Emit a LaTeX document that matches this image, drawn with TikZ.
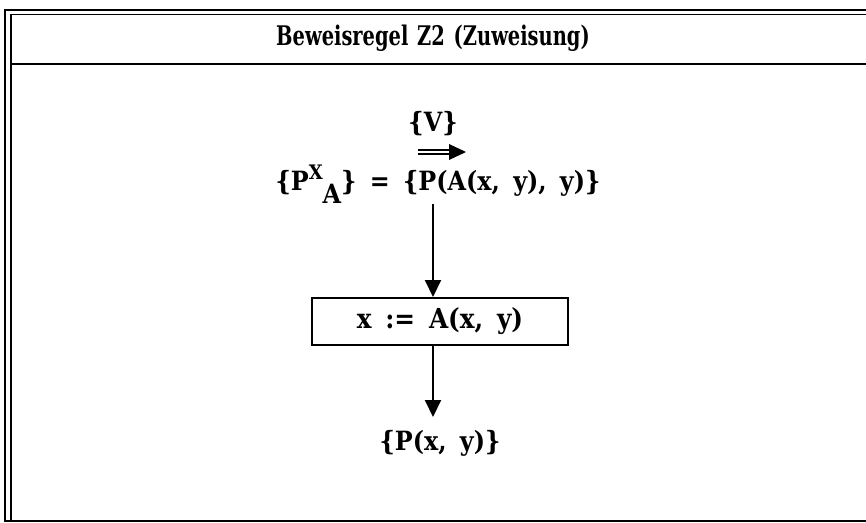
\documentclass[tikz,border=0pt]{standalone}
\usepackage{fontspec}
\setmainfont[FakeStretch=0.9,WordSpace=1.6]{DejaVu Serif}
\newfontfamily\titlefont[FakeStretch=0.72,WordSpace=1.3]{DejaVu Serif}
\usetikzlibrary{arrows.meta,calc}
\tikzset{
  txt/.style={inner sep=0pt, font=\bfseries\fontsize{26.5}{30}\selectfont},
  ttl/.style={inner sep=0pt, font=\titlefont\bfseries\fontsize{27}{30}\selectfont},
  frameline/.style={line width=2.2pt, black},
  thinframe/.style={line width=1.2pt, black},
  flow/.style={line width=2pt, -{Triangle[length=17pt,width=16pt]}},
  stmt/.style={draw, line width=2pt, minimum width=256pt, minimum height=47pt, inner sep=0pt, font=\bfseries\fontsize{27.5}{30}\selectfont}
}
\begin{document}
\begin{tikzpicture}[x=1pt,y=-1pt]
\useasboundingbox (0,0) rectangle (866,522);
% frame
\draw[frameline] (866,10) -- (5,10) -- (5,521) -- (866,521);
\draw[thinframe] (866,14.5) -- (11,14.5) -- (11,521);
\draw[frameline] (11,64) -- (866,64);
% title
\node[ttl] (title) at (433,38) {Beweisregel Z2 (Zuweisung)};
% upper part
\node[txt] (v) at (433,124) {\{V\}};
\coordinate (da1) at (418,152);
\coordinate (da2) at (466,152);
\draw[line width=2pt] ($(da1)+(0,-2.4)$) -- ($(da2)+(-14,-2.4)$);
\draw[line width=2pt] ($(da1)+(0,2.4)$) -- ($(da2)+(-14,2.4)$);
\fill ($(da2)+(-17,-8)$) -- (da2) -- ($(da2)+(-17,8)$) -- cycle;
\node[txt] (pre) at (438,184) {\{P\raisebox{0.42em}{\fontsize{20}{22}\selectfont X}\raisebox{-0.5em}{A}\} = \{P(A(x, y), y)\}};
\node[stmt] (box) at (440,321.5) {x := A(x, y)};
\node[txt] (post) at (440,443) {\{P(x, y)\}};
\draw[flow] (433,204) -- (box.north -| 433,0);
\draw[flow] (box.south -| 433,0) -- (433,417);
\end{tikzpicture}
\end{document}
